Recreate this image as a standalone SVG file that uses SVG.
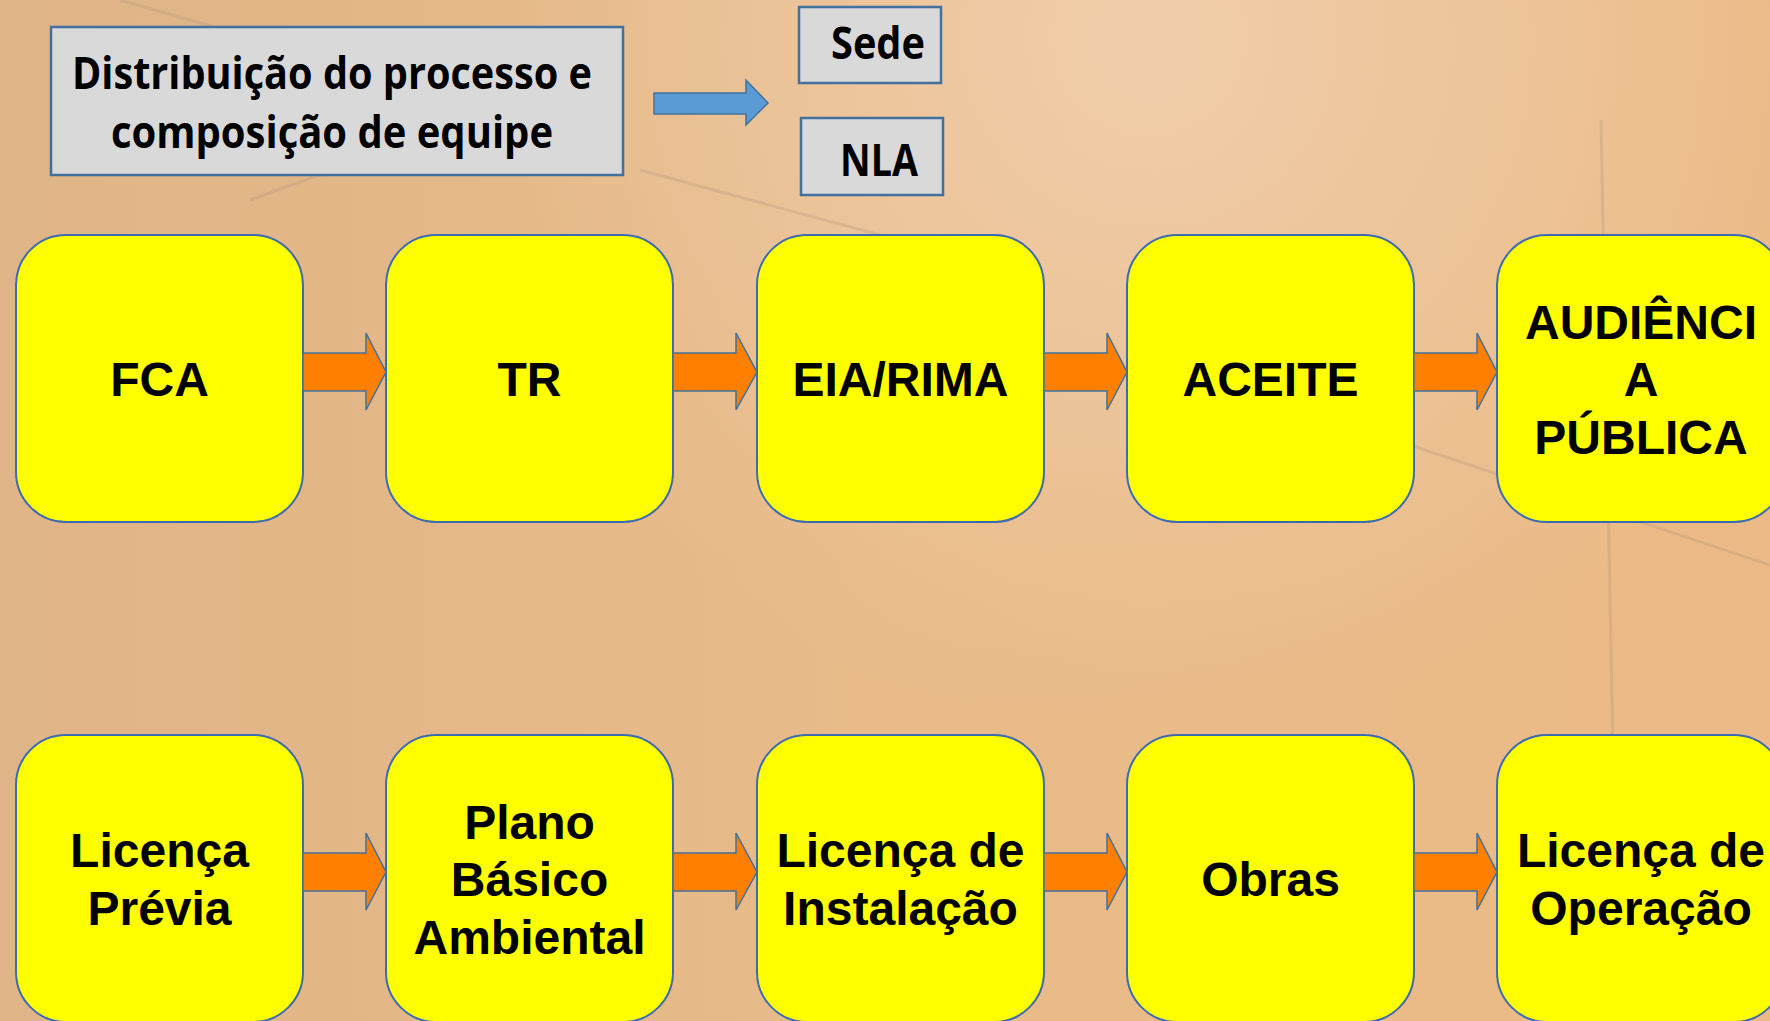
<svg xmlns="http://www.w3.org/2000/svg" width="1770" height="1021" viewBox="0 0 1770 1021">
<defs>
<linearGradient id="bg" x1="0" y1="0" x2="1" y2="0">
<stop offset="0" stop-color="#DFB487"/>
<stop offset="0.5" stop-color="#E8BB89"/>
<stop offset="1" stop-color="#EBBA86"/>
</linearGradient>
<radialGradient id="hl" cx="1150" cy="40" r="700" gradientUnits="userSpaceOnUse">
<stop offset="0" stop-color="#F0CDAA" stop-opacity="1"/>
<stop offset="1" stop-color="#F0CDAA" stop-opacity="0"/>
</radialGradient>
<style>
.node{fill:#FFFF00;stroke:#3D6BB0;stroke-width:2}
.gbox{fill:#D9D9D9;stroke:#41719C;stroke-width:2.5}
.arr{fill:#FF8000;stroke:#41719C;stroke-width:1.5}
.barr{fill:#5B9BD5;stroke:#41719C;stroke-width:1.5}
.t{font-family:"Liberation Sans",Arial,sans-serif;font-weight:bold;font-size:48px;fill:#000;text-anchor:middle}
.c{font-family:"Open Sans",Lato,sans-serif;font-weight:bold;font-size:44px;fill:#000;text-anchor:middle}
.bgl{fill:none;stroke:#B89C80;stroke-opacity:0.35;stroke-width:3}
</style>
</defs>
<rect x="0" y="0" width="1770" height="1021" fill="url(#bg)"/>
<rect x="0" y="0" width="1770" height="1021" fill="url(#hl)"/>
<g id="texture">
<path class="bgl" d="M1601 120 L1618 1021"/>
<path class="bgl" d="M1410 445 L1770 565"/>
<path class="bgl" d="M640 170 L880 235"/>
<path class="bgl" d="M120 0 L330 60"/>
<path class="bgl" d="M250 200 L360 160"/>
</g>

<g id="distribuicao">
<rect class="gbox" x="51" y="27" width="572" height="148"/>
<text class="c" x="332" y="89" textLength="520" lengthAdjust="spacingAndGlyphs">Distribuição do processo e</text>
<text class="c" x="332" y="148" textLength="442" lengthAdjust="spacingAndGlyphs">composição de equipe</text>
</g>
<g id="sede">
<rect class="gbox" x="799" y="7" width="142" height="76"/>
<text class="c" x="878" y="59" textLength="94" lengthAdjust="spacingAndGlyphs">Sede</text>
</g>
<g id="nla">
<rect class="gbox" x="801" y="118" width="142" height="77"/>
<text class="c" x="879" y="176" textLength="78" lengthAdjust="spacingAndGlyphs">NLA</text>
</g>

<g id="fca"><rect class="node" x="16" y="235" width="287" height="287" rx="50" ry="50"/><text class="t" x="159.5" y="396">FCA</text></g>
<g id="tr"><rect class="node" x="386" y="235" width="287" height="287" rx="50" ry="50"/><text class="t" x="529.5" y="396">TR</text></g>
<g id="eia"><rect class="node" x="757" y="235" width="287" height="287" rx="50" ry="50"/><text class="t" x="900.5" y="396">EIA/RIMA</text></g>
<g id="aceite"><rect class="node" x="1127" y="235" width="287" height="287" rx="50" ry="50"/><text class="t" x="1270.5" y="396">ACEITE</text></g>
<g id="audiencia"><rect class="node" x="1497" y="235" width="287" height="287" rx="50" ry="50"/><text class="t" x="1641" y="338.5">AUDIÊNCI</text><text class="t" x="1641" y="396">A</text><text class="t" x="1641" y="453.5">PÚBLICA</text></g>

<g id="lp"><rect class="node" x="16" y="735" width="287" height="287" rx="50" ry="50"/><text class="t" x="159.5" y="867">Licença</text><text class="t" x="159.5" y="924.5">Prévia</text></g>
<g id="pba"><rect class="node" x="386" y="735" width="287" height="287" rx="50" ry="50"/><text class="t" x="529.5" y="838.5">Plano</text><text class="t" x="529.5" y="896">Básico</text><text class="t" x="529.5" y="953.5">Ambiental</text></g>
<g id="li"><rect class="node" x="757" y="735" width="287" height="287" rx="50" ry="50"/><text class="t" x="900.5" y="867">Licença de</text><text class="t" x="900.5" y="924.5">Instalação</text></g>
<g id="obras"><rect class="node" x="1127" y="735" width="287" height="287" rx="50" ry="50"/><text class="t" x="1270.5" y="896">Obras</text></g>
<g id="lo"><rect class="node" x="1497" y="735" width="287" height="287" rx="50" ry="50"/><text class="t" x="1641" y="867">Licença de</text><text class="t" x="1641" y="924.5">Operação</text></g>

<g id="connectors">
<path class="barr" d="M654 93 L746 93 L746 80 L768 103 L746 125 L746 114 L654 114 Z"/>
<path class="arr" d="M303 353 L366 353 L366 333 L386 372 L366 410 L366 391 L303 391 Z"/>
<path class="arr" d="M673 353 L736 353 L736 333 L757 372 L736 410 L736 391 L673 391 Z"/>
<path class="arr" d="M1044 353 L1107 353 L1107 333 L1127 372 L1107 410 L1107 391 L1044 391 Z"/>
<path class="arr" d="M1414 353 L1477 353 L1477 333 L1497 372 L1477 410 L1477 391 L1414 391 Z"/>
<path class="arr" d="M303 853 L366 853 L366 833 L386 872 L366 910 L366 891 L303 891 Z"/>
<path class="arr" d="M673 853 L736 853 L736 833 L757 872 L736 910 L736 891 L673 891 Z"/>
<path class="arr" d="M1044 853 L1107 853 L1107 833 L1127 872 L1107 910 L1107 891 L1044 891 Z"/>
<path class="arr" d="M1414 853 L1477 853 L1477 833 L1497 872 L1477 910 L1477 891 L1414 891 Z"/>
</g>
</svg>
